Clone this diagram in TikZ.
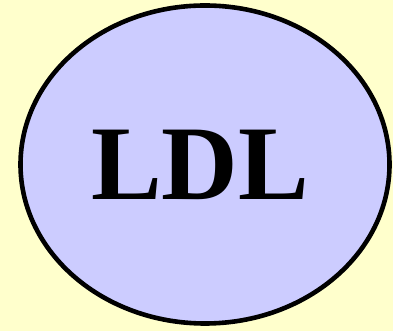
\documentclass[tikz,border=0pt]{standalone}
\usepackage{fontspec}
\setmainfont{Liberation Serif}
\definecolor{fond}{HTML}{FFFFCC}
\definecolor{lavande}{HTML}{CCCCFF}
\begin{document}
\begin{tikzpicture}[x=1pt,y=1pt]

% Fond
\fill[fond]
(0,0)
rectangle
(393,331);
\useasboundingbox (0,0) rectangle (393,331);

% Ellipse
\draw[line width=4.6pt,fill=lavande]
(205,166.5)
ellipse
[x radius=184.5,y radius=159];

\node[anchor=base,inner sep=0pt] (ldl) at (200,131)
{\fontsize{106}{106}\selectfont\bfseries LDL};

\end{tikzpicture}
\end{document}
